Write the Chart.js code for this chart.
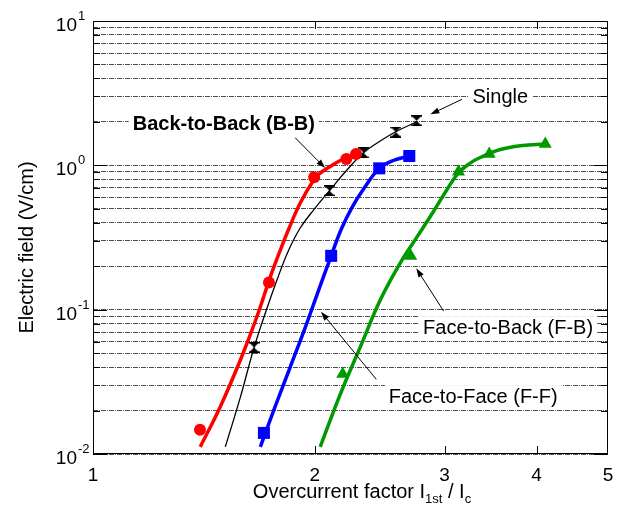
<!DOCTYPE html>
<html>
<head>
<meta charset="utf-8">
<script src="https://cdn.jsdelivr.net/npm/chart.js@4/dist/chart.umd.min.js"></script>
<style>
  html, body { margin: 0; padding: 0; background: #fff; }
</style>
</head>
<body>
<canvas id="plot" width="627" height="513"></canvas>
<script>
// measured points (markers)
const bbX = [1.397, 1.733, 1.996, 2.207, 2.275];
const bbY = [0.0147, 0.154, 0.826, 1.106, 1.198];
const singleX = [1.654, 2.094, 2.329, 2.577, 2.749];
const singleY = [0.0548, 0.667, 1.223, 1.701, 2.037];
const ffX = [1.706, 2.105, 2.446, 2.687];
const ffY = [0.0140, 0.236, 0.953, 1.160];
const fbX = [2.182, 2.699, 3.134, 3.450, 4.110];
const fbY = [0.0358, 0.235, 0.903, 1.198, 1.405];

// fitted curves
const bbFitX = [1.398, 1.488, 1.585, 1.669, 1.740, 1.796, 1.846, 1.911, 1.993, 2.034, 2.077, 2.166, 2.281];
const bbFitY = [0.0112, 0.0212, 0.0448, 0.0893, 0.168, 0.259, 0.368, 0.548, 0.791, 0.884, 0.950, 1.080, 1.211];
const singleFitX = [1.512, 1.585, 1.655, 1.719, 1.779, 1.841, 1.911, 1.997, 2.094, 2.211, 2.329, 2.454, 2.579, 2.752];
const singleFitY = [0.0112, 0.0248, 0.0550, 0.0994, 0.163, 0.255, 0.368, 0.498, 0.667, 0.928, 1.223, 1.474, 1.715, 2.004];
const ffFitX = [1.687, 1.768, 1.852, 1.942, 2.022, 2.105, 2.173, 2.248, 2.334, 2.446, 2.556, 2.687];
const ffFitY = [0.0112, 0.0215, 0.0400, 0.0757, 0.1345, 0.236, 0.362, 0.514, 0.696, 0.950, 1.080, 1.160];
const fbFitX = [2.034, 2.166, 2.305, 2.454, 2.612, 2.746, 2.895, 3.015, 3.131, 3.251, 3.354, 3.571, 3.824, 4.110];
const fbFitY = [0.0112, 0.0260, 0.0550, 0.1165, 0.2104, 0.313, 0.475, 0.664, 0.884, 1.037, 1.133, 1.287, 1.371, 1.405];

// axes
const xTicks = [1, 2, 3, 4, 5];
const yDecades = [0.01, 0.1, 1, 10];
const yExponents = ["-2", "-1", "0", "1"];
const yGrid = [];
for (const d of [0.01, 0.1, 1]) {
  for (let m = 1; m <= 9; m++) yGrid.push(+(m * d).toPrecision(3));
}
yGrid.push(10);

const FONT = "'Liberation Sans', Arial, Helvetica, sans-serif";
const RED = "#ff0000", BLUE = "#0000ff", GREEN = "#009900";

// annotation texts, anchored in data coordinates
const notes = [
  { text: "Back-to-Back (B-B)", bold: true, at: [1.505, 1.964], from: [1.881, 1.553], to: [2.066, 0.958] },
  { text: "Single", at: [3.571, 2.99], from: [3.168, 2.868], to: [2.870, 2.256] },
  { text: "Face-to-Back (F-B)", at: [3.659, 0.0757], from: [2.991, 0.0978], to: [2.746, 0.1933] },
  { text: "Face-to-Face (F-F)", at: [3.281, 0.0252], from: [2.424, 0.0329], to: [2.039, 0.0967] },
];

const pts = (xs, ys) => xs.map((x, i) => ({ x: x, y: ys[i] }));

const hourglass = (() => {
  const c = document.createElement("canvas");
  c.width = 11; c.height = 11;
  const g = c.getContext("2d");
  g.fillStyle = "#000";
  g.beginPath();
  g.moveTo(0, 0); g.lineTo(11, 0); g.lineTo(0, 11); g.lineTo(11, 11);
  g.closePath();
  g.fill();
  g.fillRect(0, 0, 11, 1.5);
  g.fillRect(0, 9.5, 11, 1.5);
  return c;
})();

const line = (ctx, x1, y1, x2, y2) => {
  ctx.beginPath(); ctx.moveTo(x1, y1); ctx.lineTo(x2, y2); ctx.stroke();
};

const arrow = (ctx, x1, y1, x2, y2) => {
  const ang = Math.atan2(y2 - y1, x2 - x1);
  const L = 9, W = 3;
  ctx.strokeStyle = "#000"; ctx.lineWidth = 1;
  line(ctx, x1, y1, x2 - L * 0.8 * Math.cos(ang), y2 - L * 0.8 * Math.sin(ang));
  ctx.fillStyle = "#000";
  ctx.beginPath();
  ctx.moveTo(x2, y2);
  ctx.lineTo(x2 - L * Math.cos(ang) + W * Math.sin(ang), y2 - L * Math.sin(ang) - W * Math.cos(ang));
  ctx.lineTo(x2 - L * Math.cos(ang) - W * Math.sin(ang), y2 - L * Math.sin(ang) + W * Math.cos(ang));
  ctx.closePath();
  ctx.fill();
};

const extras = {
  id: "extras",
  beforeDatasetsDraw(chart) {
    const { ctx, chartArea: a, scales: { x, y } } = chart;
    ctx.save();
    // white boxes behind the annotation texts
    for (const n of notes) {
      ctx.font = (n.bold ? "bold " : "") + "20px " + FONT;
      const w = ctx.measureText(n.text).width;
      const cx = x.getPixelForValue(n.at[0]);
      const cy = y.getPixelForValue(n.at[1]);
      ctx.fillStyle = "#fff";
      ctx.fillRect(cx - w / 2 - 4, cy - 11, w + 8, 22);
    }
    // frame and inward ticks
    ctx.strokeStyle = "#000";
    ctx.lineWidth = 1;
    ctx.strokeRect(a.left + 0.5, a.top + 0.5, a.right - a.left - 1, a.bottom - a.top - 1);
    for (const v of yGrid) {
      const py = Math.round(y.getPixelForValue(v)) + 0.5;
      const len = yDecades.includes(v) ? 14 : 7;
      line(ctx, a.left, py, a.left + len, py);
      line(ctx, a.right - len, py, a.right, py);
    }
    for (const v of xTicks.slice(1, -1)) {
      const px = Math.round(x.getPixelForValue(v)) + 0.5;
      line(ctx, px, a.bottom, px, a.bottom - 8);
      line(ctx, px, a.top, px, a.top + 8);
    }
    ctx.restore();
  },
  afterDatasetsDraw(chart) {
    const { ctx, chartArea: a, scales: { x, y } } = chart;
    ctx.save();
    ctx.fillStyle = "#000";
    ctx.textBaseline = "middle";
    ctx.textAlign = "center";
    for (const n of notes) {
      ctx.font = (n.bold ? "bold " : "") + "20px " + FONT;
      ctx.fillText(n.text, x.getPixelForValue(n.at[0]), y.getPixelForValue(n.at[1]) + 1);
      arrow(ctx, x.getPixelForValue(n.from[0]), y.getPixelForValue(n.from[1]),
                 x.getPixelForValue(n.to[0]), y.getPixelForValue(n.to[1]));
    }

    // y tick labels with superscript exponents
    ctx.textBaseline = "alphabetic";
    yDecades.forEach((v, i) => {
      const py = y.getPixelForValue(v);
      ctx.fillStyle = "#000";
      ctx.font = "19px " + FONT;
      ctx.textAlign = "right";
      ctx.fillText("10", 77, py + 10);
      ctx.font = "13px " + FONT;
      ctx.textAlign = "left";
      ctx.fillText(yExponents[i], 78, py - 1);
    });

    // y title
    ctx.save();
    ctx.translate(27, (a.top + a.bottom) / 2 + 10);
    ctx.rotate(-Math.PI / 2);
    ctx.font = "20px " + FONT;
    ctx.textAlign = "center";
    ctx.textBaseline = "middle";
    ctx.fillText("Electric field (V/cm)", 0, 0);
    ctx.restore();

    // x title with subscripts
    const parts = [["Overcurrent factor I", 20, 0], ["1st", 13, 5], [" / I", 20, 0], ["c", 13, 5]];
    let total = 0;
    for (const [t, s] of parts) { ctx.font = s + "px " + FONT; total += ctx.measureText(t).width; }
    let cx = 362 - total / 2;
    const base = 498;
    ctx.textAlign = "left";
    for (const [t, s, dy] of parts) {
      ctx.font = s + "px " + FONT;
      ctx.fillText(t, cx, base + dy);
      cx += ctx.measureText(t).width;
    }
    ctx.restore();
  }
};

const fitLine = (xs, ys, color, width, order) => ({
  data: pts(xs, ys),
  showLine: true,
  pointRadius: 0,
  borderColor: color,
  borderWidth: width,
  tension: 0.4,
  order: order
});

const chart = new Chart(document.getElementById("plot").getContext("2d"), {
  type: "scatter",
  data: {
    datasets: [
      { data: pts(bbX, bbY), pointStyle: "circle", pointRadius: 6, backgroundColor: RED, borderColor: RED, borderWidth: 0, order: 1 },
      { data: pts(singleX, singleY), pointStyle: hourglass, pointRadius: 6, order: 1 },
      { data: pts(ffX, ffY), pointStyle: "rect", pointRadius: 8.5, backgroundColor: BLUE, borderColor: BLUE, borderWidth: 0, order: 1 },
      { data: pts(fbX, fbY), pointStyle: "triangle", pointRadius: 7.5, backgroundColor: GREEN, borderColor: GREEN, borderWidth: 0, order: 1 },
      fitLine(bbFitX, bbFitY, RED, 3.5, 5),
      fitLine(singleFitX, singleFitY, "#000", 1.3, 5),
      fitLine(ffFitX, ffFitY, BLUE, 3.5, 5),
      fitLine(fbFitX, fbFitY, GREEN, 3.5, 5),
    ]
  },
  options: {
    responsive: false,
    animation: false,
    layout: { padding: { top: 21, right: 19, left: 0, bottom: 0 } },
    plugins: { legend: { display: false }, tooltip: { enabled: false } },
    scales: {
      x: {
        type: "logarithmic",
        min: 1,
        max: 5,
        afterBuildTicks: (s) => { s.ticks = xTicks.map(v => ({ value: v })); },
        afterFit: (s) => { s.height = 59; },
        grid: { display: false },
        border: { display: false },
        ticks: {
          autoSkip: false,
          maxRotation: 0,
          padding: 2,
          color: "#000",
          font: { family: FONT, size: 19 },
          callback: (v) => String(v)
        }
      },
      y: {
        type: "logarithmic",
        min: 0.01,
        max: 10,
        afterBuildTicks: (s) => { s.ticks = yGrid.map(v => ({ value: v })); },
        afterFit: (s) => { s.width = 93; },
        grid: { color: "#222", lineWidth: 0.8, drawTicks: false },
        border: { display: false, dash: [5, 1, 1, 1] },
        ticks: { display: false }
      }
    }
  },
  plugins: [extras]
});
</script>
</body>
</html>
